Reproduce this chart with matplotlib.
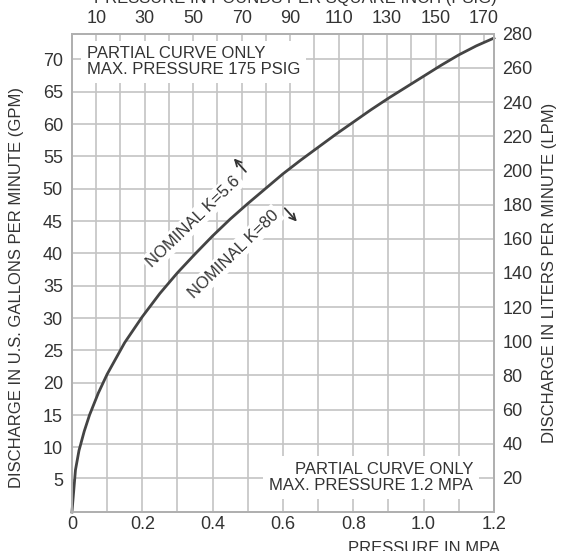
import matplotlib
matplotlib.use('Agg')
import matplotlib.pyplot as plt
from matplotlib.patches import Polygon

plt.rcParams['font.family'] = ['Liberation Sans', 'DejaVu Sans']

PSI_PER_MPA = 145.038
LPM_PER_GPM = 3.785

# discharge curve
pressure_mpa = [0, 0.01, 0.02, 0.035, 0.05, 0.075, 0.1, 0.15, 0.2, 0.25, 0.3, 0.35, 0.4,
                0.45, 0.5, 0.55, 0.6, 0.65, 0.7, 0.75, 0.8, 0.85, 0.9, 0.95, 1.0,
                1.05, 1.1, 1.15, 1.2]
flow_gpm = [0, 6.5, 9.5, 12.5, 15.0, 18.4, 21.3, 26.2, 30.2, 33.8, 37.0, 39.9, 42.7,
            45.3, 47.7, 50.0, 52.3, 54.4, 56.4, 58.4, 60.3, 62.2, 64.0, 65.7, 67.4,
            69.1, 70.7, 72.1, 73.3]

# axis ticks
mpa_ticks = [0, 0.2, 0.4, 0.6, 0.8, 1.0, 1.2]
mpa_labels = ['0', '0.2', '0.4', '0.6', '0.8', '1.0', '1.2']
psi_ticks = [10, 30, 50, 70, 90, 110, 130, 150, 170]
gpm_ticks = [5, 10, 15, 20, 25, 30, 35, 40, 45, 50, 55, 60, 65, 70]
lpm_ticks = [20, 40, 60, 80, 100, 120, 140, 160, 180, 200, 220, 240, 260, 280]

# grid steps (above curve: psi / gpm, below curve: MPa / lpm)
psi_grid = [10, 20, 30, 40, 50, 60, 70, 80, 90, 100, 110, 120, 130, 140, 150, 160, 170]
mpa_grid = [0.1, 0.2, 0.3, 0.4, 0.5, 0.6, 0.7, 0.8, 0.9, 1.0, 1.1]
lpm_grid = [20, 40, 60, 80, 100, 120, 140, 160, 180, 200, 220, 240, 260]

ink = '#333333'
grid_c = '#c4c4c4'
spine_c = '#b0b0b0'

fig = plt.figure(figsize=(5.71, 5.51), dpi=100)
ax = fig.add_axes([0.126, 0.0708, 0.739, 0.868])
ymax = 280 / LPM_PER_GPM
ax.set_xlim(0, 1.2)
ax.set_ylim(0, ymax)

curve = list(zip(pressure_mpa, flow_gpm))
upper = Polygon(curve + [(1.2, ymax), (0, ymax)], closed=True,
                transform=ax.transData, fc='none', ec='none')
lower = Polygon(curve + [(1.2, 0)], closed=True,
                transform=ax.transData, fc='none', ec='none')

# grid above the curve
for psi in psi_grid:
    x = psi / PSI_PER_MPA
    ln, = ax.plot([x, x], [0, ymax], color=grid_c, lw=1.2, zorder=1)
    ln.set_clip_path(upper)
for g in gpm_ticks:
    ln, = ax.plot([0, 1.2], [g, g], color=grid_c, lw=1.2, zorder=1)
    ln.set_clip_path(upper)

# grid below the curve
for m in mpa_grid:
    ln, = ax.plot([m, m], [0, ymax], color=grid_c, lw=1.2, zorder=1)
    ln.set_clip_path(lower)
for l in lpm_grid:
    y = l / LPM_PER_GPM
    ln, = ax.plot([0, 1.2], [y, y], color=grid_c, lw=1.2, zorder=1)
    ln.set_clip_path(lower)

ax.plot(pressure_mpa, flow_gpm, color='#444444', lw=2, zorder=5, clip_on=False)

ax.set_xticks(mpa_ticks, mpa_labels)
ax.set_yticks(gpm_ticks)
ax.tick_params(axis='x', length=0, labelsize=13, colors=ink, pad=3)
ax.tick_params(axis='y', length=0, labelsize=13, colors=ink, pad=6.5)

top = ax.twiny()
top.set_xlim(0, 1.2 * PSI_PER_MPA)
top.set_xticks(psi_ticks)
top.tick_params(length=0, labelsize=13, colors=ink, pad=4.5)

right = ax.twinx()
right.set_ylim(0, 280)
right.set_yticks(lpm_ticks)
right.tick_params(length=0, labelsize=13, colors=ink, pad=6)

for a in (ax, top, right):
    for s in a.spines.values():
        s.set_color(spine_c)
        s.set_linewidth(1.2)

ax.set_ylabel('DISCHARGE IN U.S. GALLONS PER MINUTE (GPM)', fontsize=12, color=ink)
ax.yaxis.set_label_coords(-0.114, 0.47)
right.set_ylabel('DISCHARGE IN LITERS PER MINUTE (LPM)', fontsize=12, color=ink)
right.yaxis.set_label_coords(1.114, 0.5)

fig.text(0.517, 0.9946, 'PRESSURE IN POUNDS PER SQUARE INCH (PSIG)',
         ha='center', va='baseline', fontsize=12, color=ink)
fig.text(0.8757, 0.0181, 'PRESSURE IN MPA', ha='right', va='top',
         fontsize=12, color=ink)

box = dict(boxstyle='square,pad=0.35', fc='white', ec='none')
ax.text(0.042, 72.0, 'PARTIAL CURVE ONLY\nMAX. PRESSURE 175 PSIG',
        ha='left', va='top', fontsize=12, color=ink, linespacing=1.05,
        bbox=box, zorder=3)
ax.text(1.141, 5.34, 'PARTIAL CURVE ONLY\nMAX. PRESSURE 1.2 MPA',
        ha='right', va='center', multialignment='right', fontsize=12,
        color=ink, linespacing=1.05, bbox=box, zorder=3)

small_box = dict(boxstyle='square,pad=0.15', fc='white', ec='none')
ax.text(0.344, 44.9, 'NOMINAL K=5.6', rotation=44, rotation_mode='anchor',
        ha='center', va='center', fontsize=12, color=ink, bbox=small_box, zorder=3)
ax.text(0.459, 39.9, 'NOMINAL K=80', rotation=44, rotation_mode='anchor',
        ha='center', va='center', fontsize=12, color=ink, bbox=small_box, zorder=3)

# thin pointer arrows next to the K labels
arrow = dict(arrowstyle='->', color=ink, lw=1.3, mutation_scale=11)
ax.annotate('', xy=(0.455, 55.0), xytext=(0.500, 52.3), arrowprops=arrow, zorder=3)
ax.annotate('', xy=(0.645, 44.6), xytext=(0.600, 47.3), arrowprops=arrow, zorder=3)

fig.savefig('out.png', dpi=100)
